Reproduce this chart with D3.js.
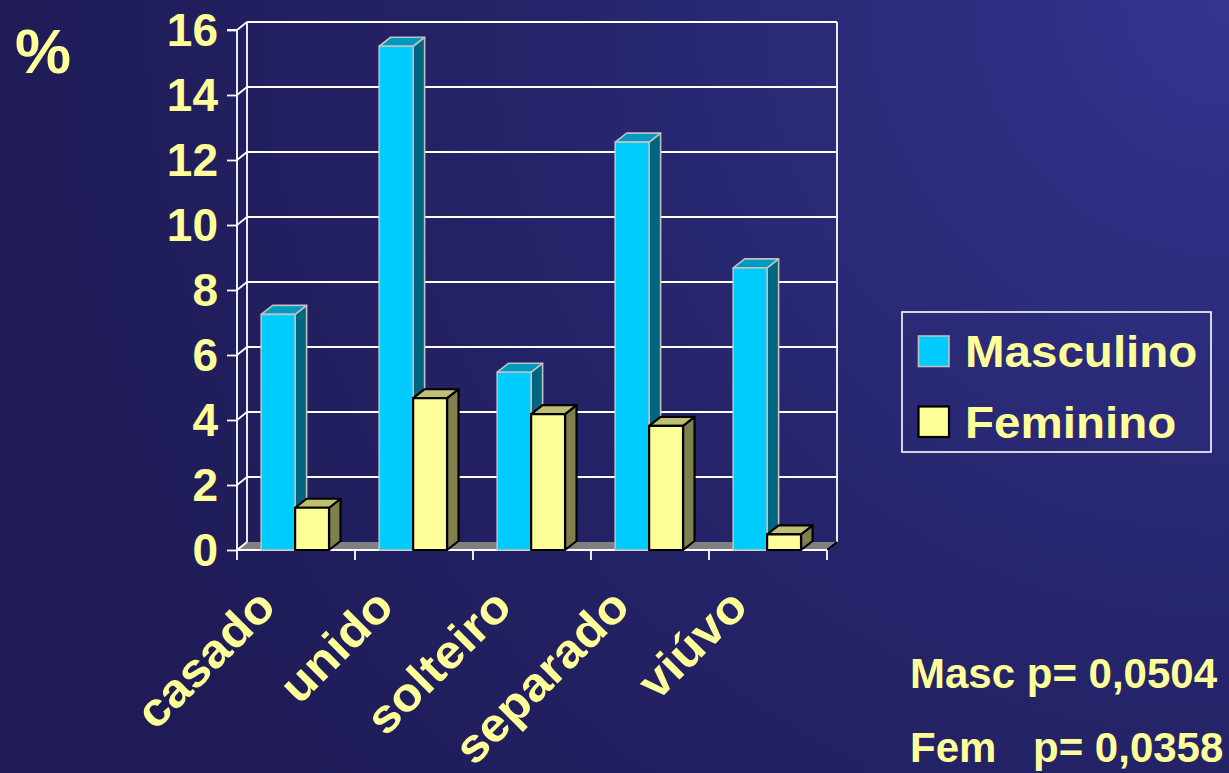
<!DOCTYPE html>
<html><head><meta charset="utf-8">
<script src="https://cdn.jsdelivr.net/npm/d3@7/dist/d3.min.js"></script>
<style>html,body{margin:0;padding:0;overflow:hidden;background:#201e5c}</style>
</head><body>
<script>
const categories = ["casado", "unido", "solteiro", "separado", "viúvo"];
const seriesNames = ["Masculino", "Feminino"];
const masculino = [7.25, 15.5, 5.47, 12.55, 8.68];
const feminino = [1.3, 4.67, 4.18, 3.82, 0.48];
const yTicks = [0, 2, 4, 6, 8, 10, 12, 14, 16];
const yAxisTitle = "%";
const pLines = [["Masc", "p= 0,0504"], ["Fem", "p= 0,0358"]];

const W = 1229, H = 773;
const TXT = "#FFFF99", FONT = "'Liberation Sans', Arial, sans-serif";
const svg = d3.select("body").append("svg").attr("width", W).attr("height", H);
const defs = svg.append("defs");
const rg = defs.append("radialGradient").attr("id", "bg").attr("gradientUnits", "userSpaceOnUse")
  .attr("cx", 1229).attr("cy", 0).attr("r", 1250);
rg.append("stop").attr("offset", 0).attr("stop-color", "#33348f");
rg.append("stop").attr("offset", 0.55).attr("stop-color", "#25246a");
rg.append("stop").attr("offset", 1).attr("stop-color", "#1e1b56");
svg.append("rect").attr("width", W).attr("height", H).attr("fill", "url(#bg)");

// scales
const x = d3.scaleBand().domain(categories).range([237, 827]).paddingInner(0).paddingOuter(0);
const bw = x.bandwidth();
const xs = d3.scaleBand().domain(seriesNames).range([bw * 0.205, bw * 0.78]);
const y = d3.scaleLinear().domain([0, 16]).range([550, 30]);
const dep = [10, -8];      // wall depth offset
const bdep = [11.5, -9];   // bar depth offset

const g = svg.append("g");
// floor
const [xa, xb] = x.range();
g.append("path").attr("d", `M${xa},${y(0)}L${xb},${y(0)}L${xb + dep[0]},${y(0) + dep[1]}L${xa + dep[0]},${y(0) + dep[1]}Z`)
  .attr("fill", "#808080");
// back gridlines
g.selectAll(".grid").data(yTicks.filter(d => d > 0)).join("line")
  .attr("x1", xa + dep[0]).attr("x2", xb + dep[0])
  .attr("y1", d => y(d) + dep[1]).attr("y2", d => y(d) + dep[1])
  .attr("stroke", "#fff").attr("stroke-width", 1.8);
// side wall diagonals
g.selectAll(".diag").data(yTicks).join("line")
  .attr("x1", xa).attr("x2", xa + dep[0])
  .attr("y1", d => y(d)).attr("y2", d => y(d) + dep[1])
  .attr("stroke", "#fff").attr("stroke-width", 1.8);
// back wall verticals
[xa + dep[0], xb + dep[0]].forEach(xx => g.append("line").attr("x1", xx).attr("x2", xx)
  .attr("y1", y(0) + dep[1]).attr("y2", y(16) + dep[1]).attr("stroke", "#fff").attr("stroke-width", 1.8));
// right floor edge
g.append("line").attr("x1", xb).attr("y1", y(0)).attr("x2", xb + dep[0]).attr("y2", y(0) + dep[1])
  .attr("stroke", "#000").attr("stroke-width", 1.8);

// y axis
const yAxis = d3.axisLeft(y).tickValues(yTicks).tickSize(10).tickPadding(9).tickFormat(d3.format("d"));
const ya = svg.append("g").attr("transform", `translate(${xa},0)`).call(yAxis);
ya.select(".domain").attr("stroke", "#fff").attr("stroke-width", 1.8).attr("d", `M-10,${y(16)}H0V${y(0)}`);
ya.selectAll(".tick line").attr("stroke", "#fff").attr("stroke-width", 1.8);
ya.selectAll(".tick text").attr("fill", TXT).attr("font-family", FONT).attr("font-weight", "bold")
  .attr("font-size", 46).attr("dy", "0.34em");

// x axis
const xAxis = d3.axisBottom(x).tickSize(0).tickFormat("");
const xaG = svg.append("g").attr("transform", `translate(0,${y(0)})`).call(xAxis);
xaG.select(".domain").attr("stroke", "#fff").attr("stroke-width", 1.8).attr("d", `M${xa},0H${xb}`);
const bounds = categories.map(c => x(c)).concat([xb]);
xaG.selectAll(".btick").data(bounds).join("line").attr("x1", d => d).attr("x2", d => d)
  .attr("y1", 0).attr("y2", 10).attr("stroke", "#fff").attr("stroke-width", 1.8);

// bars
const series = [
  { name: seriesNames[0], values: masculino, front: "#00CCFF", top: "#0099C0", side: "#006680", stroke: "#C0C0C0", sw: 1.6 },
  { name: seriesNames[1], values: feminino, front: "#FFFF99", top: "#BFBF73", side: "#80804D", stroke: "#000", sw: 2.2 }
];
const barsG = svg.append("g");
categories.forEach((c, i) => {
  series.forEach(s => {
    const x0 = x(c) + xs(s.name), x1 = x0 + xs.bandwidth();
    const y0 = y(0), y1 = y(s.values[i]);
    const [dx, dy] = bdep;
    const bg = barsG.append("g").attr("stroke", s.stroke).attr("stroke-width", s.sw).attr("stroke-linejoin", "round");
    bg.append("path").attr("d", `M${x1},${y0}L${x1 + dx},${y0 + dy}L${x1 + dx},${y1 + dy}L${x1},${y1}Z`).attr("fill", s.side);
    bg.append("path").attr("d", `M${x0},${y1}L${x0 + dx},${y1 + dy}L${x1 + dx},${y1 + dy}L${x1},${y1}Z`).attr("fill", s.top);
    bg.append("rect").attr("x", x0).attr("y", y1).attr("width", x1 - x0).attr("height", y0 - y1).attr("fill", s.front);
  });
});

// category labels
svg.append("g").selectAll("text").data(categories).join("text")
  .attr("transform", d => `translate(${x(d) + bw / 2 - 18},609) rotate(-45)`)
  .attr("text-anchor", "end").attr("fill", TXT).attr("font-family", FONT).attr("font-weight", "bold")
  .attr("font-size", 47).text(d => d)
  .each(function () { const L = this.getComputedTextLength(); d3.select(this).attr("textLength", L * 1.07).attr("lengthAdjust", "spacingAndGlyphs"); });

// y title
svg.append("text").attr("x", 15).attr("y", 73).attr("fill", TXT).attr("font-family", FONT)
  .attr("font-weight", "bold").attr("font-size", 63).text(yAxisTitle);

// legend
const lg = svg.append("g");
lg.append("rect").attr("x", 902).attr("y", 312).attr("width", 309).attr("height", 140)
  .attr("fill", "none").attr("stroke", "#fff").attr("stroke-width", 1.6);
series.forEach((s, i) => {
  const yy = 336 + i * 70.5;
  lg.append("rect").attr("x", 918.5).attr("y", yy).attr("width", 30.5).attr("height", 30.5)
    .attr("fill", s.front).attr("stroke", s.stroke).attr("stroke-width", s.sw);
  lg.append("text").attr("x", 965).attr("y", yy + 31).attr("fill", TXT).attr("font-family", FONT)
    .attr("font-weight", "bold").attr("font-size", 44).text(s.name)
    .each(function () { const L = this.getComputedTextLength(); d3.select(this).attr("textLength", L * 1.08).attr("lengthAdjust", "spacingAndGlyphs"); });
});

// p-values
const pg = svg.append("g").attr("fill", TXT).attr("font-family", FONT).attr("font-weight", "bold").attr("font-size", 42);
pg.append("text").attr("x", 910).attr("y", 688).text(pLines[0][0] + " " + pLines[0][1]);
pg.append("text").attr("x", 910).attr("y", 762).text(pLines[1][0]);
pg.append("text").attr("x", 1033).attr("y", 762).text(pLines[1][1]);
</script>
</body></html>
